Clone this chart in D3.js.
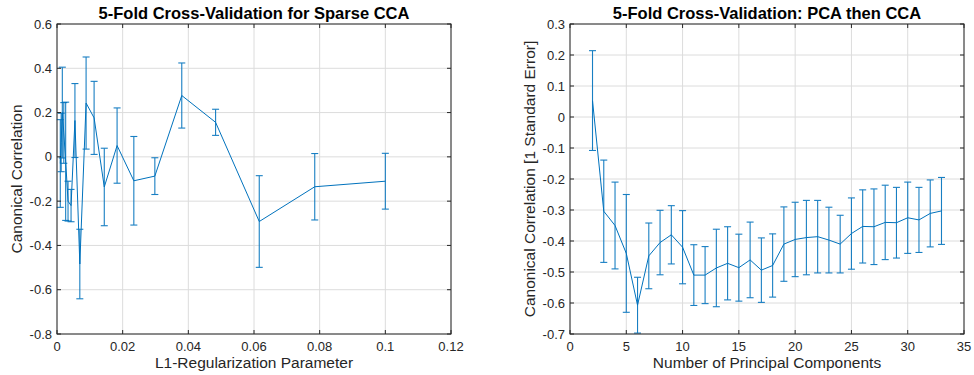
<!DOCTYPE html>
<html>
<head>
<meta charset="utf-8">
<script src="https://cdn.jsdelivr.net/npm/d3@7"></script>
<style>
  body { margin: 0; background: #fff; }
  svg text { font-family: "Liberation Sans", Arial, Helvetica, sans-serif; fill: #262626; }
</style>
</head>
<body>
<div id="chart"></div>
<script>
// left panel: sparse CCA
var lambdaVals = [0.001, 0.00127, 0.00162, 0.00207, 0.00264, 0.00336, 0.00428, 0.00546, 0.00695, 0.00886,
  0.0113, 0.0144, 0.0183, 0.0234, 0.0298, 0.038, 0.0483, 0.0616, 0.0785, 0.1];
var sparseMean = [-0.03, 0.065, 0.2, 0.108, -0.02, -0.2, -0.22, 0.164, -0.484, 0.243,
  0.176, -0.136, 0.051, -0.108, -0.087, 0.277, 0.156, -0.292, -0.135, -0.11];
var sparseErr = [0.198, 0.132, 0.205, 0.137, 0.267, 0.09, 0.073, 0.167, 0.157, 0.208,
  0.165, 0.175, 0.17, 0.2, 0.083, 0.147, 0.059, 0.207, 0.15, 0.126];

// right panel: PCA then CCA
var numPCs = [2, 3, 4, 5, 6, 7, 8, 9, 10, 11, 12, 13, 14, 15, 16, 17, 18, 19, 20, 21, 22, 23, 24, 25, 26, 27, 28, 29, 30, 31, 32, 33];
var pcaMean = [0.053, -0.304, -0.35, -0.44, -0.607, -0.448, -0.405, -0.38, -0.42, -0.51, -0.51, -0.487, -0.472, -0.486, -0.461, -0.494,
  -0.479, -0.41, -0.395, -0.389, -0.386, -0.397, -0.41, -0.376, -0.353, -0.354, -0.34, -0.341, -0.325, -0.332, -0.311, -0.303];
var pcaErr = [0.161, 0.165, 0.14, 0.19, 0.09, 0.106, 0.104, 0.094, 0.118, 0.098, 0.092, 0.125, 0.118, 0.108, 0.122, 0.104,
  0.102, 0.12, 0.12, 0.12, 0.117, 0.106, 0.093, 0.115, 0.118, 0.122, 0.12, 0.114, 0.115, 0.105, 0.108, 0.108];

var leftXTicks = [0, 0.02, 0.04, 0.06, 0.08, 0.1, 0.12];
var leftYTicks = [0.6, 0.4, 0.2, 0, -0.2, -0.4, -0.6, -0.8];
var rightXTicks = [0, 5, 10, 15, 20, 25, 30, 35];
var rightYTicks = [0.3, 0.2, 0.1, 0, -0.1, -0.2, -0.3, -0.4, -0.5, -0.6, -0.7];

var width = 974, height = 375;
var svg = d3.select("#chart").append("svg")
  .attr("width", width)
  .attr("height", height);

var axisColor = "#262626";
var lineColor = "#0072BD";

function fmt(v) {
  if (v === 0) return "0";
  return String(+v.toFixed(2));
}

function panel(opts) {
  var x = d3.scaleLinear().domain(opts.xDomain).range([opts.left, opts.right]);
  var y = d3.scaleLinear().domain(opts.yDomain).range([opts.bottom, opts.top]);
  var g = svg.append("g");

  // grid
  g.selectAll(".gx").data(opts.xTicks).enter().append("line")
    .attr("x1", d => x(d)).attr("x2", d => x(d))
    .attr("y1", opts.top).attr("y2", opts.bottom)
    .attr("stroke", "#dcdcdc").attr("stroke-width", 1);
  g.selectAll(".gy").data(opts.yTicks).enter().append("line")
    .attr("x1", opts.left).attr("x2", opts.right)
    .attr("y1", d => y(d)).attr("y2", d => y(d))
    .attr("stroke", "#dcdcdc").attr("stroke-width", 1);

  // data line
  var pts = opts.xs.map((v, i) => ({ x: v, m: opts.mean[i], e: opts.err[i] }));
  var line = d3.line().x(d => x(d.x)).y(d => y(d.m));
  g.append("path")
    .datum(pts)
    .attr("d", line)
    .attr("fill", "none")
    .attr("stroke", lineColor)
    .attr("stroke-width", 1);

  // error bars
  var cap = opts.cap;
  var eb = g.selectAll(".eb").data(pts).enter().append("g")
    .attr("stroke", lineColor).attr("stroke-width", 1.1).attr("opacity", 0.9);
  eb.append("line")
    .attr("x1", d => x(d.x)).attr("x2", d => x(d.x))
    .attr("y1", d => y(d.m + d.e)).attr("y2", d => y(d.m - d.e));
  eb.append("line")
    .attr("x1", d => x(d.x) - cap).attr("x2", d => x(d.x) + cap)
    .attr("y1", d => y(d.m + d.e)).attr("y2", d => y(d.m + d.e));
  eb.append("line")
    .attr("x1", d => x(d.x) - cap).attr("x2", d => x(d.x) + cap)
    .attr("y1", d => y(d.m - d.e)).attr("y2", d => y(d.m - d.e));

  // box and inward ticks
  g.append("rect")
    .attr("x", opts.left).attr("y", opts.top)
    .attr("width", opts.right - opts.left).attr("height", opts.bottom - opts.top)
    .attr("fill", "none").attr("stroke", axisColor).attr("stroke-width", 1);
  var tl = 4;
  opts.xTicks.forEach(function (t) {
    g.append("line").attr("x1", x(t)).attr("x2", x(t)).attr("y1", opts.bottom).attr("y2", opts.bottom - tl).attr("stroke", axisColor);
    g.append("line").attr("x1", x(t)).attr("x2", x(t)).attr("y1", opts.top).attr("y2", opts.top + tl).attr("stroke", axisColor);
  });
  opts.yTicks.forEach(function (t) {
    g.append("line").attr("x1", opts.left).attr("x2", opts.left + tl).attr("y1", y(t)).attr("y2", y(t)).attr("stroke", axisColor);
    g.append("line").attr("x1", opts.right).attr("x2", opts.right - tl).attr("y1", y(t)).attr("y2", y(t)).attr("stroke", axisColor);
  });

  // tick labels
  g.selectAll(".xl").data(opts.xTicks).enter().append("text")
    .attr("x", d => x(d)).attr("y", opts.bottom + 17)
    .attr("text-anchor", "middle").attr("font-size", 13)
    .text(fmt);
  g.selectAll(".yl").data(opts.yTicks).enter().append("text")
    .attr("x", opts.left - 5).attr("y", d => y(d) + 4.5)
    .attr("text-anchor", "end").attr("font-size", 13)
    .text(fmt);

  // title and labels
  g.append("text")
    .attr("x", (opts.left + opts.right) / 2).attr("y", 19)
    .attr("text-anchor", "middle").attr("font-size", 16.5).attr("font-weight", "bold")
    .style("fill", "#000")
    .text(opts.title);
  g.append("text")
    .attr("x", (opts.left + opts.right) / 2).attr("y", 368)
    .attr("text-anchor", "middle").attr("font-size", 15.5)
    .text(opts.xLabel);
  g.append("text")
    .attr("transform", "translate(" + opts.yLabelX + "," + ((opts.top + opts.bottom) / 2) + ") rotate(-90)")
    .attr("text-anchor", "middle").attr("font-size", 15.5)
    .text(opts.yLabel);
}

panel({
  left: 57, right: 451, top: 24, bottom: 334,
  xDomain: [0, 0.12], yDomain: [-0.8, 0.6],
  xTicks: leftXTicks, yTicks: leftYTicks,
  xs: lambdaVals, mean: sparseMean, err: sparseErr, cap: 3.5,
  title: "5-Fold Cross-Validation for Sparse CCA",
  xLabel: "L1-Regularization Parameter",
  yLabel: "Canonical Correlation",
  yLabelX: 22
});

panel({
  left: 570, right: 964, top: 24, bottom: 334,
  xDomain: [0, 35], yDomain: [-0.7, 0.3],
  xTicks: rightXTicks, yTicks: rightYTicks,
  xs: numPCs, mean: pcaMean, err: pcaErr, cap: 3.5,
  title: "5-Fold Cross-Validation: PCA then CCA",
  xLabel: "Number of Principal Components",
  yLabel: "Canonical Correlation [1 Standard Error]",
  yLabelX: 535
});
</script>
</body>
</html>
